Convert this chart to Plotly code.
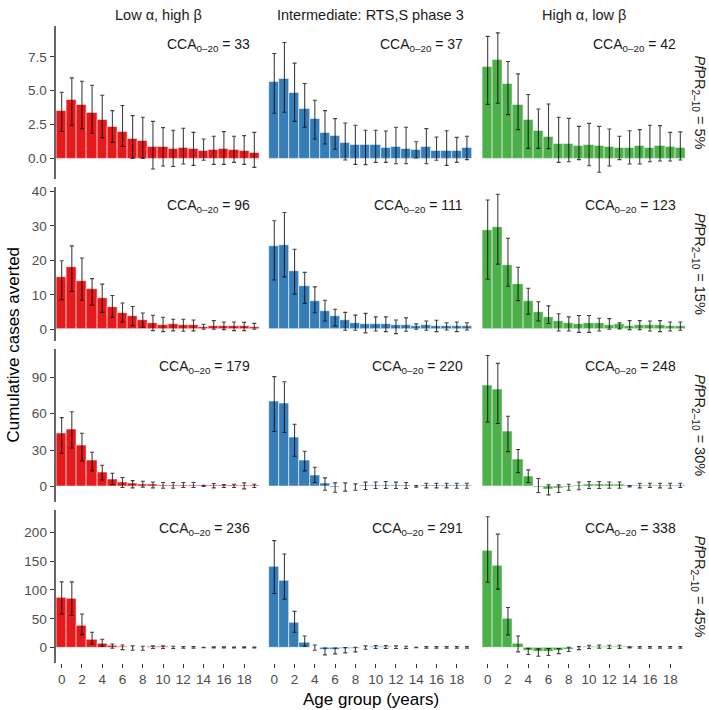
import plotly.graph_objects as go
from plotly.subplots import make_subplots

ages = list(range(20))
x_ticks = list(range(0, 20, 2))

scenarios = ["Low α, high β", "Intermediate: RTS,S phase 3", "High α, low β"]
colors = ["#E41A1C", "#377EB8", "#4DAF4A"]
prevalence = ["5%", "15%", "30%", "45%"]
cca = [[33, 37, 42], [96, 111, 123], [179, 220, 248], [236, 291, 338]]

y_ticks = [[0, 2.5, 5.0, 7.5], [0, 10, 20, 30, 40], [0, 30, 60, 90], [0, 50, 100, 150, 200]]
y_ticktext = [["0.0", "2.5", "5.0", "7.5"], ["0", "10", "20", "30", "40"],
              ["0", "30", "60", "90"], ["0", "50", "100", "150", "200"]]

# ---- PfPR 5% ----
r1_red = [3.49, 4.30, 3.96, 3.39, 2.87, 2.33, 1.94, 1.47, 1.33, 0.84, 0.84, 0.69, 0.76, 0.74, 0.61, 0.66, 0.71, 0.64, 0.57, 0.44]
r1_red_hi = [4.89, 5.95, 5.70, 5.41, 4.67, 3.54, 3.91, 3.17, 3.05, 2.75, 2.29, 2.09, 2.24, 1.94, 1.45, 1.65, 1.99, 1.65, 1.70, 1.94]
r1_red_lo = [2.01, 2.46, 2.21, 1.87, 1.55, 1.20, 0.91, 0.02, 0.02, -0.76, -0.54, -0.57, -0.39, -0.49, -0.12, -0.42, -0.42, -0.27, -0.42, -0.64]
r1_blue = [5.65, 5.87, 4.84, 3.66, 2.95, 1.89, 1.67, 1.15, 1.01, 1.01, 1.01, 0.76, 0.86, 0.74, 0.66, 0.84, 0.57, 0.61, 0.59, 0.76]
r1_blue_hi = [7.74, 8.55, 7.03, 5.53, 4.30, 3.54, 2.95, 2.63, 2.46, 2.09, 2.09, 2.04, 2.31, 2.31, 1.25, 2.21, 1.60, 2.06, 1.57, 1.65]
r1_blue_lo = [3.34, 3.42, 2.75, 2.31, 1.45, 1.08, 0.69, -0.10, -0.42, -0.44, -0.27, -0.27, -0.37, -0.37, 0.05, -0.37, -0.12, -0.49, -0.27, -0.07]
r1_green = [6.76, 7.25, 5.53, 3.96, 2.87, 2.04, 1.60, 1.06, 1.06, 0.96, 1.03, 0.93, 0.88, 0.79, 0.81, 0.91, 0.81, 0.91, 0.86, 0.76]
r1_green_hi = [9.00, 9.26, 7.15, 6.24, 4.72, 3.66, 4.03, 3.05, 2.97, 2.38, 2.60, 2.38, 2.19, 1.65, 2.06, 2.14, 2.46, 2.43, 1.94, 1.97]
r1_green_lo = [4.00, 4.08, 3.24, 2.14, 0.76, 0.76, 0.74, -0.27, -0.22, -0.07, -0.52, -1.00, -0.54, -0.07, -0.39, -0.39, -0.22, -0.17, -0.17, -0.10]

# ---- PfPR 15% ----
r2_red = [15.2, 17.9, 14.0, 11.5, 8.9, 6.3, 4.8, 3.9, 2.5, 1.84, 1.16, 1.45, 1.06, 1.06, 0.68, 0.87, 0.77, 0.77, 0.77, 0.68]
r2_red_hi = [19.9, 24.2, 20.7, 14.7, 13.1, 9.8, 7.6, 6.6, 4.7, 4.07, 3.5, 2.9, 2.9, 2.7, 1.45, 2.5, 2.1, 2.1, 2.0, 1.7]
r2_red_lo = [8.6, 11.0, 8.4, 7.0, 4.9, 3.5, 2.1, 1.06, 0.58, -0.39, -0.68, -0.48, -0.58, -0.48, 0.0, 0.0, -0.1, -0.39, -0.39, 0.0]
r2_blue = [24.1, 24.5, 16.8, 12.6, 8.2, 5.2, 3.7, 2.5, 1.74, 1.35, 1.55, 1.35, 1.26, 1.26, 0.87, 1.26, 0.97, 0.97, 0.87, 0.87]
r2_blue_hi = [31.5, 33.9, 23.2, 16.5, 12.3, 8.4, 5.8, 4.9, 4.1, 4.6, 3.6, 3.6, 2.7, 3.3, 1.55, 2.4, 2.6, 1.9, 2.1, 1.9]
r2_blue_lo = [14.3, 15.2, 10.2, 7.5, 4.8, 2.4, 0.97, -0.3, -0.3, -1.06, -0.5, -0.7, -1.26, -0.6, 0.0, -0.3, -0.7, -0.2, -0.7, -0.2]
r2_green = [28.6, 29.7, 18.6, 13.0, 8.2, 5.0, 3.5, 2.4, 1.74, 1.35, 1.65, 1.65, 1.06, 1.35, 0.87, 1.16, 1.16, 1.06, 0.77, 0.77]
r2_green_hi = [37.5, 39.2, 26.4, 18.0, 11.9, 8.0, 6.8, 4.5, 3.6, 4.0, 4.0, 3.2, 3.1, 1.84, 2.5, 2.5, 2.4, 2.5, 2.1, 2.1]
r2_green_lo = [14.5, 18.9, 12.5, 8.3, 4.4, 2.4, 1.65, -0.5, -0.5, -0.9, -0.9, -0.5, 0.0, 0.1, -0.1, -0.1, -0.5, -0.7, -0.5, -0.3]

# ---- PfPR 30% ----
r3_red = [43.9, 46.9, 33.5, 21.7, 11.3, 5.8, 3.0, 2.2, 1.9, 1.6, 1.1, 1.1, 1.1, 1.1, 0.5, 0.8, 0.8, 0.8, 0.6, 0.6]
r3_red_hi = [56.8, 61.7, 43.9, 28.3, 17.6, 11.0, 7.4, 4.9, 4.4, 3.8, 3.3, 3.3, 3.3, 3.3, 1.1, 2.5, 1.6, 1.9, 3.0, 1.9]
r3_red_lo = [27.4, 31.8, 21.1, 12.9, 5.5, 1.6, -0.8, -1.1, -0.5, -1.1, -1.4, -1.4, -0.8, -0.8, 0.0, -1.1, -0.8, -0.8, -1.9, -0.8]
r3_blue = [70.3, 68.3, 40.1, 21.7, 8.8, 2.5, -0.8, -0.4, -0.4, 0.5, 1.1, 1.2, 1.0, 0.8, 0.2, 0.8, 0.8, 0.8, 0.7, 0.7]
r3_blue_hi = [90.6, 86.4, 51.3, 29.1, 15.9, 7.1, 3.0, 3.0, 2.2, 3.6, 3.8, 4.1, 3.6, 3.3, 0.8, 2.7, 2.7, 2.7, 2.7, 2.7]
r3_blue_lo = [45.3, 44.5, 25.0, 12.9, 3.3, -3.0, -4.7, -3.8, -3.0, -2.5, -1.6, -1.6, -1.6, -1.6, -0.5, -1.1, -1.1, -1.1, -1.4, -1.4]
r3_green = [83.4, 80.1, 45.0, 22.5, 8.0, -0.5, -2.2, -2.0, -0.8, 0.8, 1.5, 1.5, 1.3, 1.3, 0.5, 1.1, 1.1, 1.1, 1.1, 1.1]
r3_green_hi = [108.0, 101.5, 57.9, 30.5, 13.7, 6.6, 1.4, 1.4, 1.9, 3.8, 4.1, 4.1, 3.8, 3.8, 0.8, 2.7, 2.7, 2.7, 2.7, 2.7]
r3_green_lo = [53.2, 51.9, 28.8, 11.5, 3.3, -4.9, -6.9, -4.9, -3.0, -2.7, -1.6, -1.6, -1.4, -1.4, -0.3, -1.1, -0.8, -1.1, -1.4, -0.8]

# ---- PfPR 45% ----
r4_red = [85.9, 84.7, 38.6, 13.8, 6.3, 2.9, 1.0, -1.2, -1.2, 0.6, 0.6, 0.3, 0.3, 0.3, 0.1, 0.2, 0.2, 0.2, 0.2, 0.2]
r4_red_hi = [114, 114, 58.2, 26.5, 14.4, 6.3, 4.6, 2.9, 2.3, 2.9, 2.9, 2.3, 1.7, 1.7, 0.6, 1.2, 1.2, 1.0, 1.2, 1.0]
r4_red_lo = [58.2, 55.9, 22.5, 6.3, 2.3, -1.2, -3.5, -4.6, -4.6, -1.7, -1.7, -1.7, -1.2, -1.2, -0.4, -0.8, -0.8, -0.6, -0.8, -0.6]
r4_blue = [139.5, 115.9, 42.7, 8.1, -1.0, -4.0, -4.0, -3.0, -2.3, -0.6, 0.6, 0.5, 0.4, 0.4, 0.2, 0.3, 0.3, 0.3, 0.3, 0.3]
r4_blue_hi = [185.6, 162.5, 62.8, 20.2, 4.6, -0.6, -0.6, 0.0, 0.6, 2.9, 3.5, 3.5, 2.9, 2.3, 0.6, 1.7, 1.7, 1.7, 1.7, 1.7]
r4_blue_lo = [94.0, 84.0, 26.5, 2.3, -4.6, -12.7, -11.0, -9.2, -7.5, -2.9, -1.7, -1.7, -1.7, -1.7, -0.4, -1.2, -1.2, -1.2, -1.2, -1.2]
r4_green = [168.3, 142.4, 50.1, 5.8, -6.3, -7.5, -7.5, -5.2, -3.5, -1.2, 0.6, 1.7, 1.7, 1.2, 0.6, 0.3, 0.3, 0.3, 0.3, 0.3]
r4_green_hi = [227, 197, 69.7, 20.2, -1.2, -2.3, -1.7, -1.7, 0.6, 1.7, 4.0, 4.6, 4.0, 4.0, 1.2, 1.7, 1.7, 1.7, 1.7, 1.7]
r4_green_lo = [113.5, 101.4, 21.9, -7.5, -12.1, -15.0, -13.8, -10.4, -6.9, -3.5, -1.7, -1.2, -1.7, -1.7, -0.6, -1.2, -1.2, -1.2, -1.2, -1.2]

rows_data = [
    [(r1_red, r1_red_hi, r1_red_lo), (r1_blue, r1_blue_hi, r1_blue_lo), (r1_green, r1_green_hi, r1_green_lo)],
    [(r2_red, r2_red_hi, r2_red_lo), (r2_blue, r2_blue_hi, r2_blue_lo), (r2_green, r2_green_hi, r2_green_lo)],
    [(r3_red, r3_red_hi, r3_red_lo), (r3_blue, r3_blue_hi, r3_blue_lo), (r3_green, r3_green_hi, r3_green_lo)],
    [(r4_red, r4_red_hi, r4_red_lo), (r4_blue, r4_blue_hi, r4_blue_lo), (r4_green, r4_green_hi, r4_green_lo)],
]

W, H = 709, 710
FONT = "Liberation Sans, Arial, Helvetica, sans-serif"

# layout geometry in pixels
col_px = [(55.6, 260.4), (268.2, 473.0), (481.6, 686.4)]
row_px = [(23, 177), (185, 339), (347, 501), (509, 663)]

fig = make_subplots(rows=4, cols=3)

for r in range(4):
    lo_all, hi_all = [], []
    for c in range(3):
        vals, hi, lo = rows_data[r][c]
        lo_all += lo + vals
        hi_all += hi + vals
        fig.add_trace(go.Bar(
            x=ages, y=vals, width=1.0,
            marker=dict(color=colors[c], line=dict(color="rgba(255,255,255,0.55)", width=1)),
            error_y=dict(type="data", symmetric=False,
                         array=[h - v for h, v in zip(hi, vals)],
                         arrayminus=[v - l for v, l in zip(vals, lo)],
                         color="rgba(0,0,0,0.75)", thickness=1.1, width=2),
            showlegend=False, hoverinfo="skip",
        ), row=r + 1, col=c + 1)
    ymin, ymax = min(lo_all), max(hi_all)
    span = ymax - ymin
    yr = [ymin - 0.05 * span, ymax + 0.05 * span]
    for c in range(3):
        x0, x1 = col_px[c]
        y0, y1 = row_px[r]
        fig.update_xaxes(domain=[x0 / W, x1 / W], range=[-0.6, 19.6],
                         showgrid=False, zeroline=False, showline=False,
                         tickmode="array", tickvals=x_ticks,
                         ticks="outside" if r == 3 else "", ticklen=4, tickwidth=1.2,
                         tickcolor="#333333", showticklabels=(r == 3),
                         tickfont=dict(size=13.5, color="#4D4D4D", family=FONT),
                         row=r + 1, col=c + 1)
        fig.update_yaxes(domain=[1 - y1 / H, 1 - y0 / H], range=yr,
                         showgrid=False, zeroline=False,
                         showline=(c == 0), linecolor="#666666", linewidth=2,
                         tickmode="array", tickvals=y_ticks[r], ticktext=y_ticktext[r],
                         ticks="outside" if c == 0 else "", ticklen=4, tickwidth=1.2,
                         tickcolor="#333333", showticklabels=(c == 0),
                         tickfont=dict(size=13.5, color="#4D4D4D", family=FONT),
                         row=r + 1, col=c + 1)

annotations = []
# column strip titles
for c in range(3):
    x0, x1 = col_px[c]
    annotations.append(dict(text=scenarios[c], x=(x0 + x1) / 2 / W, y=1 - 12 / H,
                            xref="paper", yref="paper", showarrow=False,
                            xanchor="center", yanchor="middle",
                            font=dict(size=14.5, color="#1A1A1A", family=FONT)))
# row strip labels
for r in range(4):
    y0, y1 = row_px[r]
    annotations.append(dict(text=f"<i>Pf</i>PR<sub>2–10</sub> = {prevalence[r]}",
                            x=699 / W, y=1 - (y0 + y1) / 2 / H,
                            xref="paper", yref="paper", showarrow=False, textangle=90,
                            xanchor="center", yanchor="middle",
                            font=dict(size=14.5, color="#1A1A1A", family=FONT)))
# CCA labels
for r in range(4):
    for c in range(3):
        x0, x1 = col_px[c]
        y0, y1 = row_px[r]
        annotations.append(dict(text=f"CCA<sub>0–20</sub> = {cca[r][c]}",
                                x=(x1 - 8) / W, y=1 - (y0 + 19) / H,
                                xref="paper", yref="paper", showarrow=False,
                                xanchor="right", yanchor="middle",
                                font=dict(size=14, color="#1A1A1A", family=FONT)))
# axis titles
annotations.append(dict(text="Cumulative cases averted", x=14 / W, y=1 - 343 / H,
                        xref="paper", yref="paper", showarrow=False, textangle=-90,
                        xanchor="center", yanchor="middle",
                        font=dict(size=17, color="#000000", family=FONT)))
annotations.append(dict(text="Age group (years)", x=371 / W, y=1 - 699 / H,
                        xref="paper", yref="paper", showarrow=False,
                        xanchor="center", yanchor="middle",
                        font=dict(size=17, color="#000000", family=FONT)))

fig.update_layout(width=W, height=H, margin=dict(l=0, r=0, t=0, b=0),
                  paper_bgcolor="white", plot_bgcolor="white",
                  bargap=0, annotations=annotations,
                  font=dict(family=FONT))

fig.write_html("out.html", config={"displayModeBar": False},
               post_script="document.body.style.margin='0';document.body.style.overflow='hidden';")
